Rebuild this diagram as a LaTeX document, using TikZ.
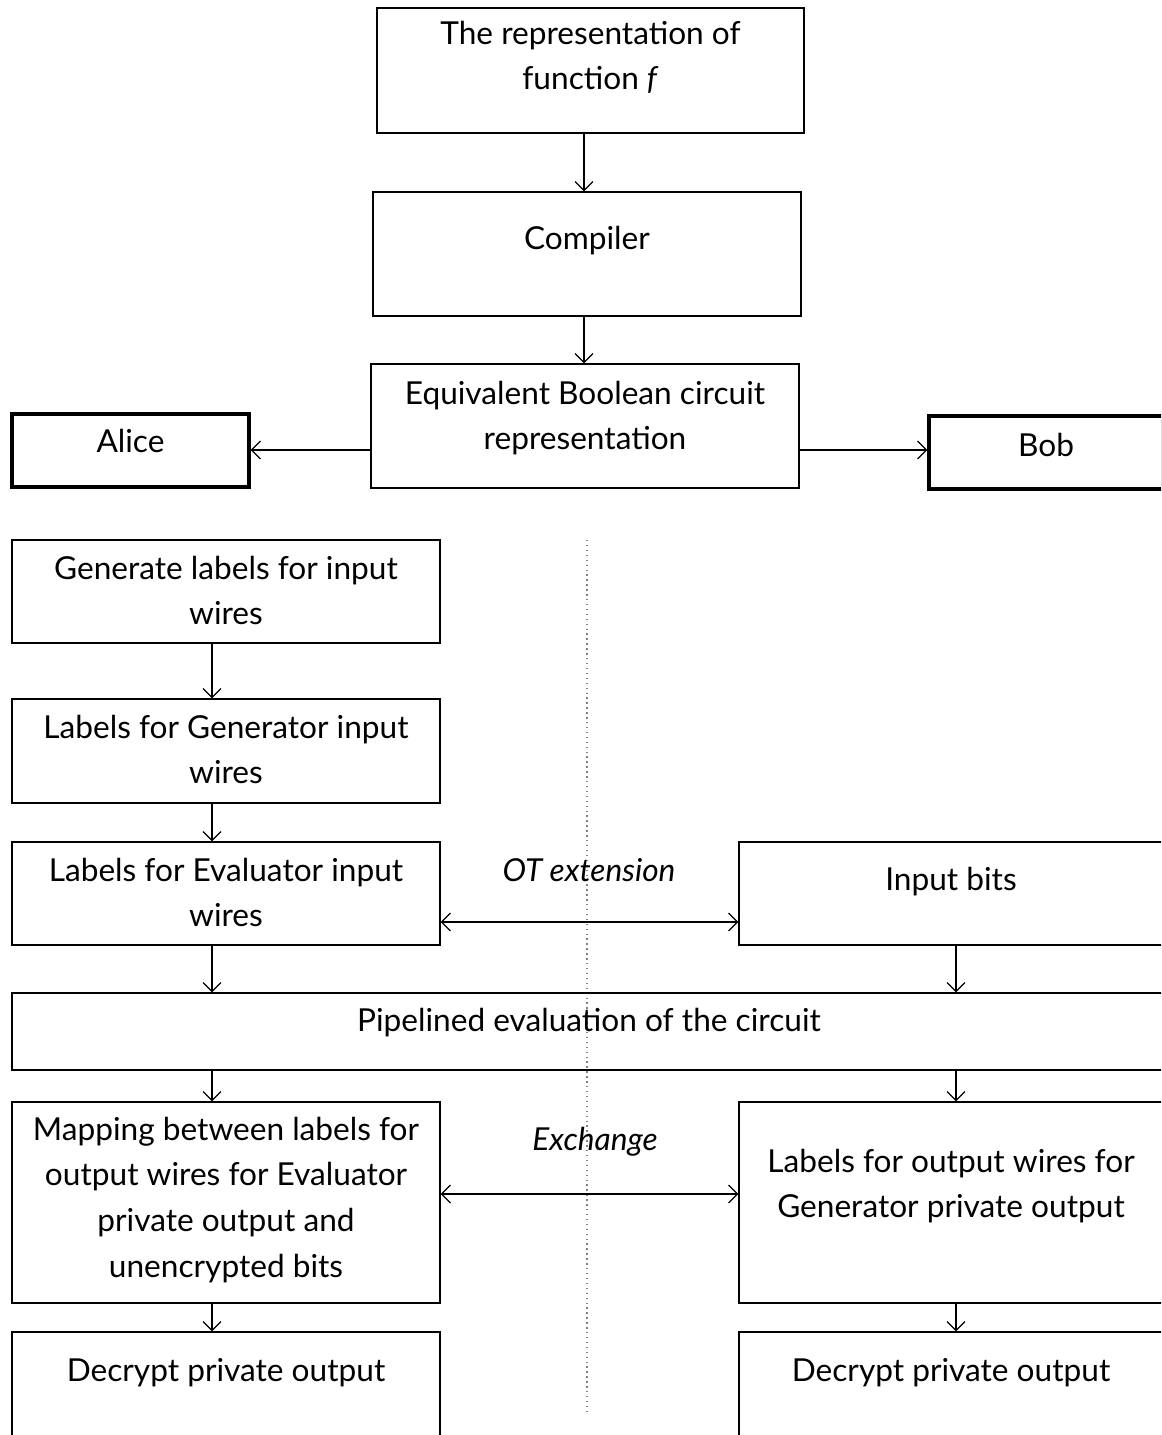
\documentclass[tikz,border=0pt]{standalone}
\usepackage{fontspec}
\setmainfont{Lato}
\usetikzlibrary{arrows.meta}
\newlength\pxu
\setlength\pxu{0.02cm}
\newcommand{\boxtxt}[4]{\parbox[c][#2\pxu][t]{#1\pxu}{\centering\vspace*{#3\pxu}#4}}
\tikzset{blk/.style={draw,line width=0.7pt,inner sep=0pt},
	whobox/.style={draw,inner sep=0pt,line width=1.8pt},
	note/.style={font=\fontsize{18}{26}\selectfont\itshape,inner sep=0pt}}
\begin{document}
\begin{tikzpicture}[x=0.02cm,y=-0.02cm,>={Straight Barb[length=1.8mm,width=3.6mm]},font=\fontsize{18}{26}\selectfont,line width=0.7pt]
	\clip (0,0) rectangle (1161,1435);
	\coordinate (dtop) at (587,540);
	\coordinate (dbot) at (587,1415);
	\coordinate (tx) at (584,0);
	\coordinate (lx) at (212,0);
	\coordinate (rx) at (956,0);
	\coordinate (wy) at (0,450);
	\coordinate (oty) at (0,922);
	\coordinate (exy) at (0,1194);
	\draw[gray,dotted,line width=0.8pt] (dtop)--(dbot);
	\node[blk] (fn) at (590.5,70.5) {\boxtxt{427}{125}{13}{The representation of\\function \textit{f}}};
	\node[blk] (cmp) at (587,254) {\boxtxt{428}{124}{34}{Compiler}};
	\node[blk] (bool) at (585,426) {\boxtxt{428}{124}{17}{Equivalent Boolean circuit\\representation}};
	\node[whobox] (alice) at (130.5,450.5) {\boxtxt{237}{73}{15}{Alice}};
	\node[whobox] (bob) at (1046,452.5) {\boxtxt{234}{73}{17}{Bob}};
	\node[blk] (gen) at (226,591.5) {\boxtxt{428}{103}{16}{Generate labels for input\\wires}};
	\node[blk] (lgen) at (226,751) {\boxtxt{428}{104}{16}{Labels for Generator input\\wires}};
	\node[blk] (leval) at (226,893.5) {\boxtxt{428}{103}{16}{Labels for Evaluator input\\wires}};
	\node[blk] (inb) at (951,893.5) {\boxtxt{424}{103}{25}{Input bits}};
	\node[blk] (pipe) at (589,1031.5) {\boxtxt{1154}{77}{15}{Pipelined evaluation of the circuit}};
	\node[blk] (map) at (226,1202.5) {\boxtxt{428}{201}{15}{Mapping between labels for\\output wires for Evaluator\\private output and\\unencrypted bits}};
	\node[blk] (lout) at (951,1202.5) {\boxtxt{424}{201}{47}{Labels for output wires for\\Generator private output}};
	\node[blk] (decl) at (226,1412) {\boxtxt{428}{160}{26}{Decrypt private output}};
	\node[blk] (decr) at (951,1412) {\boxtxt{424}{160}{26}{Decrypt private output}};
	\node[note] (ot) at (589,870) {OT extension};
	\node[note] (ex) at (595,1142) {Exchange};
	\draw[->] (fn.south -| tx)--(cmp.north -| tx);
	\draw[->] (cmp.south -| tx)--(bool.north -| tx);
	\draw[->] (bool.west |- wy)--(alice.east |- wy);
	\draw[->] (bool.east |- wy)--(bob.west |- wy);
	\draw[->] (gen.south -| lx)--(lgen.north -| lx);
	\draw[->] (lgen.south -| lx)--(leval.north -| lx);
	\draw[->] (leval.south -| lx)--(pipe.north -| lx);
	\draw[->] (inb.south -| rx)--(pipe.north -| rx);
	\draw[->] (pipe.south -| lx)--(map.north -| lx);
	\draw[->] (pipe.south -| rx)--(lout.north -| rx);
	\draw[->] (map.south -| lx)--(decl.north -| lx);
	\draw[->] (lout.south -| rx)--(decr.north -| rx);
	\draw[<->] (leval.east |- oty)--(inb.west |- oty);
	\draw[<->] (map.east |- exy)--(lout.west |- exy);
\end{tikzpicture}
\end{document}
